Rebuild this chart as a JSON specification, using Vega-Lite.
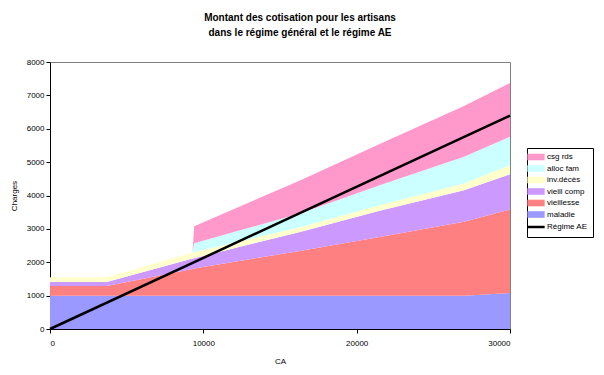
{
  "$schema": "https://vega.github.io/schema/vega-lite/v6.json",
  "width": 460,
  "height": 267,
  "autosize": "none",
  "padding": {"left": 50, "top": 62, "right": 94, "bottom": 46},
  "background": "white",
  "config": {
    "font": "Liberation Sans",
    "view": {"stroke": "#808080", "strokeWidth": 1},
    "axis": {"grid": false, "domainColor": "#000000", "tickColor": "#000000", "tickSize": 4, "labelFontSize": 8, "labelColor": "#000000", "titleFontSize": 8, "titleFontWeight": "normal", "titleColor": "#000000", "labelFont": "Liberation Sans", "titleFont": "Liberation Sans"}
  },
  "title": {
    "text": ["Montant des cotisation pour les artisans", "dans le régime général et le régime AE"],
    "fontSize": 10,
    "fontWeight": "bold",
    "font": "Liberation Sans",
    "color": "#000000",
    "anchor": "middle",
    "dx": 20,
    "offset": 20,
    "lineHeight": 15
  },
  "data": {
    "values": [
      {"CA": 0, "serie": "maladie", "valeur": 1000},
      {"CA": 3700, "serie": "maladie", "valeur": 1000},
      {"CA": 9300, "serie": "maladie", "valeur": 1000},
      {"CA": 9400, "serie": "maladie", "valeur": 1000},
      {"CA": 16300, "serie": "maladie", "valeur": 1000},
      {"CA": 21500, "serie": "maladie", "valeur": 1000},
      {"CA": 27000, "serie": "maladie", "valeur": 1000},
      {"CA": 30000, "serie": "maladie", "valeur": 1080},
      {"CA": 0, "serie": "vieillesse", "valeur": 290},
      {"CA": 3700, "serie": "vieillesse", "valeur": 290},
      {"CA": 9300, "serie": "vieillesse", "valeur": 800},
      {"CA": 9400, "serie": "vieillesse", "valeur": 810},
      {"CA": 16300, "serie": "vieillesse", "valeur": 1340},
      {"CA": 21500, "serie": "vieillesse", "valeur": 1760},
      {"CA": 27000, "serie": "vieillesse", "valeur": 2210},
      {"CA": 30000, "serie": "vieillesse", "valeur": 2500},
      {"CA": 0, "serie": "vieill comp", "valeur": 120},
      {"CA": 3700, "serie": "vieill comp", "valeur": 120},
      {"CA": 9300, "serie": "vieill comp", "valeur": 310},
      {"CA": 9400, "serie": "vieill comp", "valeur": 310},
      {"CA": 16300, "serie": "vieill comp", "valeur": 570},
      {"CA": 21500, "serie": "vieill comp", "valeur": 780},
      {"CA": 27000, "serie": "vieill comp", "valeur": 950},
      {"CA": 30000, "serie": "vieill comp", "valeur": 1060},
      {"CA": 0, "serie": "inv.décès", "valeur": 140},
      {"CA": 3700, "serie": "inv.décès", "valeur": 140},
      {"CA": 9300, "serie": "inv.décès", "valeur": 180},
      {"CA": 9400, "serie": "inv.décès", "valeur": 180},
      {"CA": 16300, "serie": "inv.décès", "valeur": 140},
      {"CA": 21500, "serie": "inv.décès", "valeur": 170},
      {"CA": 27000, "serie": "inv.décès", "valeur": 200},
      {"CA": 30000, "serie": "inv.décès", "valeur": 270},
      {"CA": 0, "serie": "alloc fam", "valeur": 0},
      {"CA": 3700, "serie": "alloc fam", "valeur": 0},
      {"CA": 9300, "serie": "alloc fam", "valeur": 0},
      {"CA": 9400, "serie": "alloc fam", "valeur": 270},
      {"CA": 16300, "serie": "alloc fam", "valeur": 410},
      {"CA": 21500, "serie": "alloc fam", "valeur": 600},
      {"CA": 27000, "serie": "alloc fam", "valeur": 800},
      {"CA": 30000, "serie": "alloc fam", "valeur": 850},
      {"CA": 0, "serie": "csg rds", "valeur": 0},
      {"CA": 3700, "serie": "csg rds", "valeur": 0},
      {"CA": 9300, "serie": "csg rds", "valeur": 0},
      {"CA": 9400, "serie": "csg rds", "valeur": 510},
      {"CA": 16300, "serie": "csg rds", "valeur": 990},
      {"CA": 21500, "serie": "csg rds", "valeur": 1230},
      {"CA": 27000, "serie": "csg rds", "valeur": 1520},
      {"CA": 30000, "serie": "csg rds", "valeur": 1610},
      {"CA": 0, "serie": "Régime AE", "valeur": 0},
      {"CA": 30000, "serie": "Régime AE", "valeur": 6390}
    ]
  },
  "encoding": {
    "x": {"field": "CA", "type": "quantitative", "title": "CA", "scale": {"domain": [0, 30000], "nice": false}, "axis": {"values": [0, 10000, 20000, 30000], "format": "d", "labelPadding": 6, "titlePadding": 10}},
    "y": {"field": "valeur", "type": "quantitative", "title": "Charges", "scale": {"domain": [0, 8000], "nice": false}, "axis": {"values": [0, 1000, 2000, 3000, 4000, 5000, 6000, 7000, 8000], "format": "d", "titlePadding": 8}},
    "color": {
      "field": "serie",
      "type": "nominal",
      "sort": ["csg rds", "alloc fam", "inv.décès", "vieill comp", "vieillesse", "maladie", "Régime AE"],
      "scale": {
        "domain": ["csg rds", "alloc fam", "inv.décès", "vieill comp", "vieillesse", "maladie", "Régime AE"],
        "range": ["#FF99CC", "#CCFFFF", "#FFFFCC", "#CC99FF", "#FF8080", "#9999FF", "#000000"]
      },
      "legend": {
        "title": null,
        "orient": "none",
        "legendX": 477,
        "legendY": 86,
        "strokeColor": "#000000",
        "padding": 5,
        "labelFontSize": 8,
        "labelColor": "#000000",
        "labelFont": "Liberation Sans",
        "rowPadding": 3.5,
        "labelOffset": 7,
        "symbolSize": 300,
        "encode": {
          "symbols": {
            "update": {
              "shape": {"signal": "datum.value === 'Régime AE' ? 'stroke' : 'M-1,-0.38H1V0.38H-1Z'"},
              "fill": {"signal": "scale('color', datum.value)"},
              "stroke": {"signal": "scale('color', datum.value)"},
              "strokeWidth": {"signal": "datum.value === 'Régime AE' ? 2.5 : 0"},
              "opacity": {"value": 1},
              "fillOpacity": {"value": 1}
            }
          }
        }
      }
    }
  },
  "layer": [
    {
      "transform": [
        {"filter": "datum.serie !== 'Régime AE'"},
        {"calculate": "indexof(['maladie', 'vieillesse', 'vieill comp', 'inv.décès', 'alloc fam', 'csg rds'], datum.serie)", "as": "ordre"}
      ],
      "mark": {"type": "area", "opacity": 1, "line": false},
      "encoding": {
        "y": {"field": "valeur", "type": "quantitative", "stack": "zero", "title": "Charges"},
        "order": {"field": "ordre", "type": "quantitative", "sort": "ascending"}
      }
    },
    {
      "transform": [{"filter": "datum.serie === 'Régime AE'"}],
      "mark": {"type": "line", "strokeWidth": 2.5},
      "encoding": {}
    }
  ]
}
